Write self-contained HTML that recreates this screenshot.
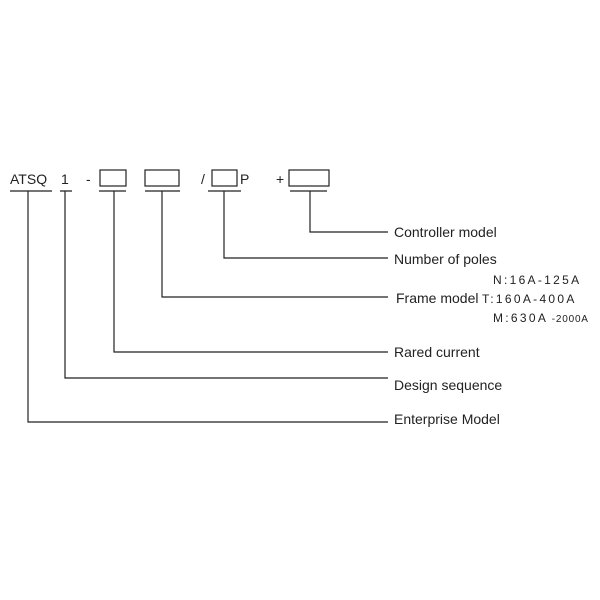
<!DOCTYPE html>
<html><head><style>
body{margin:0;background:#fff;}
svg{display:block;}
text{font-family:"Liberation Sans","DejaVu Sans",sans-serif;fill:#222;}
</style></head><body>
<svg width="600" height="600" viewBox="0 0 600 600">
<g font-size="14">
<text x="10" y="184">ATSQ</text>
<text x="61" y="184">1</text>
<text x="86" y="184">-</text>
<text x="201" y="184">/</text>
<text x="240" y="184">P</text>
<text x="276" y="184">+</text>
</g>
<g fill="none" stroke="#222" stroke-width="1.2">
<rect x="100" y="170" width="26" height="16"/>
<rect x="145" y="170" width="34" height="16"/>
<rect x="212" y="170" width="25" height="16"/>
<rect x="289" y="170" width="40" height="16"/>
<path d="M10 191H52M60 191H72M99 191H126M145 191H180M208 191H241M290 191H327"/>
<path d="M28 191V422H388M65 191V378H388M114 191V352H388M162 191V297H388M224 191V258H388M310 191V232H388"/>
</g>
<g font-size="14">
<text x="394" y="237">Controller model</text>
<text x="394" y="264">Number of poles</text>
<text x="396" y="303">Frame model</text>
<text x="394" y="357">Rared current</text>
<text x="394" y="390">Design sequence</text>
<text x="394" y="424">Enterprise Model</text>
</g>
<g font-size="12" letter-spacing="2.3">
<text x="493" y="284">N:16A-125A</text>
<text x="482" y="303">T:160A-400A</text>
<text x="493" y="322">M:630A<tspan font-size="10" letter-spacing="0.8"> -2000A</tspan></text>
</g>
</svg>
</body></html>
